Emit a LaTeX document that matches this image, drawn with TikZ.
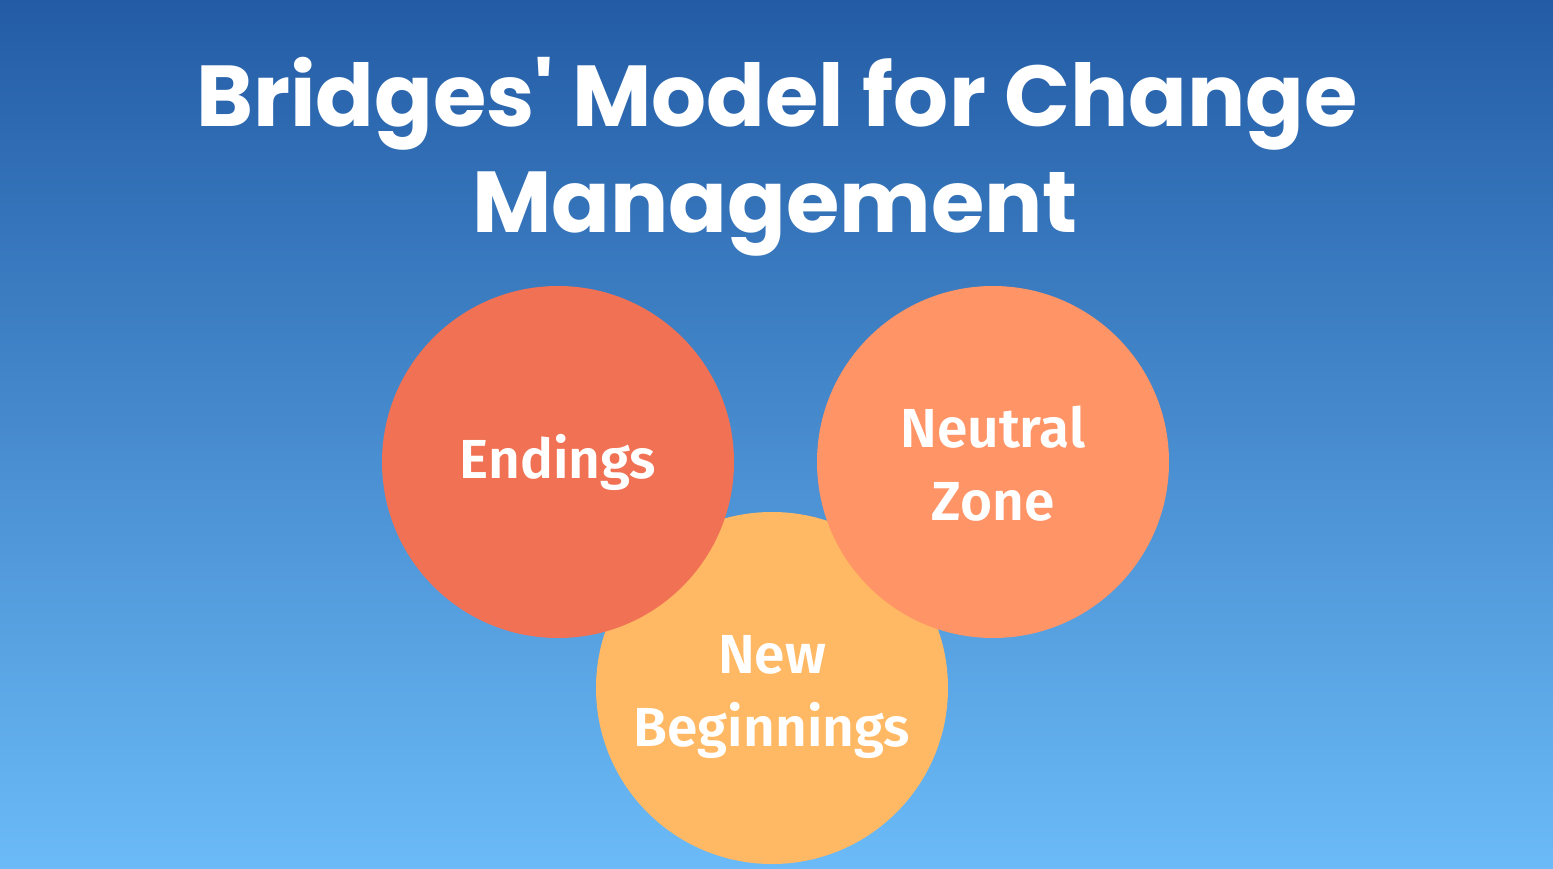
\documentclass[tikz,border=0pt]{standalone}
\usepackage{fontspec}
\setmainfont{Fira Sans}[BoldFont=* SemiBold]
\newfontfamily\titlefont{Poppins}[UprightFont=* Bold]
\usetikzlibrary{positioning}
\definecolor{bgtop}{HTML}{235CA5}
\definecolor{bgbottom}{HTML}{6BBBF8}
\definecolor{endcol}{HTML}{F07154}
\definecolor{neutralcol}{HTML}{FF9466}
\definecolor{newcol}{HTML}{FFB964}

\begin{document}
\begin{tikzpicture}[x=1pt,y=-1pt,
  phase/.style={text=white,font=\fontsize{55}{73}\selectfont\bfseries,align=center},
  title/.style={anchor=base,text=white,font=\titlefont\fontsize{86.5}{106}\selectfont}]
% background, page is exactly the picture size
\shade[top color=bgtop,bottom color=bgbottom] (0,0) rectangle (1553,869);
\useasboundingbox (0,0) rectangle (1553,869);
% heading, one node per line so the baselines sit where they should
\node[title] (heading) at (777,127) {Bridges' Model for Change};
\node[title] (heading2) at (775,233) {Management};
% the lower circle goes first, the two upper ones overlap it
\fill[newcol]     (772,688) circle (176);
\fill[endcol]     (558,462) circle (176);
\fill[neutralcol] (993,462) circle (176);
% labels
\node[phase] (newbeg)  at (772,697) {New\\Beginnings};
\node[phase] (endings) at (558,462) {Endings};
\node[phase] (neutral) at (993,464) {Neutral\\Zone};
\end{tikzpicture}
\end{document}
